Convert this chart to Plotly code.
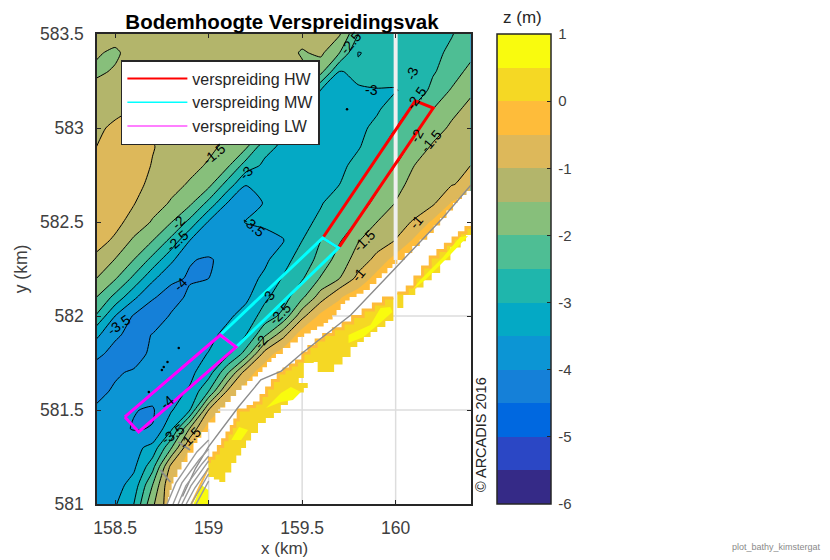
import plotly.graph_objects as go

# grid of the bathymetry (km, m)
grid_x = [158.4, 158.5, 158.6, 158.7, 158.8, 158.9, 159.0, 159.1, 159.2, 159.3, 159.4,
          159.5, 159.6, 159.7, 159.8, 159.9, 160.0, 160.1, 160.2, 160.3, 160.4]
grid_y = [581.0, 581.1, 581.2, 581.3, 581.4, 581.5, 581.6, 581.7, 581.8, 581.9, 582.0, 582.1, 582.2,
          582.3, 582.4, 582.5, 582.6, 582.7, 582.8, 582.9, 583.0, 583.1, 583.2, 583.3, 583.4, 583.5]
z_m = [
 [-3.7,-3.55,-3.0,-1.6,-0.6,-0.2,-0.2,-0.2,-0.2,-0.2,-0.2,-0.2,-0.2,-0.2,-0.2,-0.2,-0.2,-0.2,-0.2,-0.2,-0.2],
 [-3.75,-3.7,-3.3,-2.0,-0.5,-0.2,-0.2,-0.2,-0.2,-0.2,-0.2,-0.2,-0.2,-0.2,-0.2,-0.2,-0.2,-0.2,-0.2,-0.2,-0.2],
 [-3.8,-3.75,-3.6,-2.7,-0.85,-0.2,-0.2,-0.2,-0.2,-0.2,-0.2,-0.2,-0.2,-0.2,-0.2,-0.2,-0.2,-0.2,-0.2,-0.2,-0.2],
 [-3.85,-3.8,-3.65,-3.35,-2.05,-0.5,-0.2,-0.2,-0.2,-0.2,-0.2,-0.2,-0.2,-0.2,-0.2,-0.2,-0.2,-0.2,-0.2,-0.2,-0.2],
 [-3.9,-3.87,-4.03,-3.98,-3.1,-1.45,-0.2,-0.2,-0.2,-0.2,-0.2,-0.2,-0.2,-0.2,-0.2,-0.2,-0.2,-0.2,-0.2,-0.2,-0.2],
 [-3.95,-3.85,-3.98,-4.05,-3.55,-3.0,-1.0,-0.2,-0.2,-0.2,-0.2,-0.2,-0.2,-0.2,-0.2,-0.2,-0.2,-0.2,-0.2,-0.2,-0.2],
 [-4.1,-3.95,-3.85,-3.8,-3.65,-3.45,-2.5,-0.95,-0.3,-0.2,-0.2,-0.2,-0.2,-0.2,-0.2,-0.2,-0.2,-0.2,-0.2,-0.2,-0.2],
 [-4.3,-4.05,-3.95,-3.85,-3.75,-3.6,-3.25,-2.1,-0.75,-0.2,-0.2,-0.2,-0.2,-0.2,-0.2,-0.2,-0.2,-0.2,-0.2,-0.2,-0.2],
 [-3.85,-4.2,-4.2,-3.9,-3.8,-3.7,-3.48,-3.15,-2.3,-0.8,-0.2,-0.2,-0.2,-0.2,-0.2,-0.2,-0.2,-0.2,-0.2,-0.2,-0.2],
 [-3.4,-3.9,-4.2,-3.98,-3.85,-3.75,-3.65,-3.35,-3.0,-2.1,-1.15,-0.2,-0.2,-0.2,-0.2,-0.2,-0.2,-0.2,-0.2,-0.2,-0.2],
 [-2.55,-3.5,-4.05,-4.3,-3.95,-3.85,-3.75,-3.6,-3.3,-2.8,-2.35,-1.15,-0.35,-0.2,-0.2,-0.2,-0.2,-0.2,-0.2,-0.2,-0.2],
 [-2.0,-2.65,-3.4,-3.95,-4.2,-3.9,-3.8,-3.7,-3.6,-3.1,-2.72,-2.1,-1.23,-0.55,-0.2,-0.2,-0.2,-0.2,-0.2,-0.2,-0.2],
 [-1.5,-1.95,-2.62,-3.4,-3.9,-4.05,-4.0,-3.82,-3.7,-3.4,-2.95,-2.55,-1.95,-1.5,-0.85,-0.3,-0.2,-0.2,-0.2,-0.2,-0.2],
 [-1.1,-1.52,-2.0,-2.65,-3.4,-3.97,-4.05,-3.85,-3.75,-3.6,-3.2,-2.75,-2.35,-1.75,-1.3,-0.85,-0.3,-0.2,-0.2,-0.2,-0.2],
 [-0.85,-1.07,-1.6,-2.0,-2.65,-3.52,-3.7,-3.75,-3.72,-3.65,-3.52,-3.0,-2.5,-2.05,-1.52,-1.25,-0.98,-0.4,-0.2,-0.2,-0.2],
 [-0.78,-0.88,-1.15,-1.55,-1.98,-2.65,-3.55,-3.68,-3.48,-3.42,-3.35,-3.2,-2.85,-2.35,-1.95,-1.5,-1.2,-0.95,-0.4,-0.2,-0.2],
 [-0.75,-0.75,-0.98,-1.28,-1.55,-1.9,-2.65,-3.52,-3.65,-3.48,-3.35,-3.25,-3.05,-2.65,-2.25,-1.85,-1.48,-1.25,-1.08,-0.45,-0.2],
 [-0.75,-0.7,-0.85,-1.12,-1.35,-1.55,-1.85,-2.7,-3.49,-3.49,-3.3,-3.3,-3.2,-3.0,-2.5,-2.1,-1.65,-1.35,-1.2,-1.03,-0.85],
 [-0.8,-0.7,-0.75,-1.03,-1.25,-1.37,-1.55,-1.9,-2.75,-3.1,-3.25,-3.3,-3.3,-3.15,-2.8,-2.4,-2.0,-1.5,-1.3,-1.15,-1.0],
 [-1.0,-0.75,-0.75,-0.97,-1.2,-1.3,-1.4,-1.6,-1.92,-2.85,-3.1,-3.25,-3.3,-3.2,-3.05,-2.65,-2.25,-1.85,-1.42,-1.3,-1.15],
 [-1.15,-0.85,-0.85,-1.05,-1.25,-1.3,-1.35,-1.4,-1.55,-1.92,-2.9,-3.1,-3.2,-3.2,-3.1,-2.9,-2.5,-2.1,-1.75,-1.4,-1.25],
 [-1.3,-1.2,-0.98,-1.2,-1.3,-1.3,-1.3,-1.3,-1.35,-1.5,-1.9,-2.95,-3.1,-3.15,-3.15,-3.05,-2.8,-2.4,-2.0,-1.65,-1.35],
 [-1.35,-1.3,-1.25,-1.3,-1.3,-1.3,-1.3,-1.3,-1.3,-1.3,-1.45,-1.88,-3.03,-3.1,-3.03,-3.02,-3.02,-2.85,-2.35,-1.95,-1.6],
 [-1.58,-1.45,-1.3,-1.3,-1.3,-1.3,-1.3,-1.3,-1.3,-1.3,-1.3,-1.4,-1.85,-3.02,-2.93,-2.85,-2.88,-2.9,-2.55,-2.25,-1.85],
 [-1.45,-1.58,-1.3,-1.3,-1.3,-1.3,-1.3,-1.3,-1.3,-1.3,-1.3,-1.55,-1.4,-2.0,-3.02,-2.9,-2.85,-2.75,-2.6,-2.42,-2.15],
 [-1.3,-1.3,-1.3,-1.3,-1.3,-1.3,-1.3,-1.3,-1.3,-1.3,-1.3,-1.3,-1.3,-1.45,-2.5,-2.85,-2.85,-2.8,-2.7,-2.52,-2.3],
]

band_colors = ["#352A87", "#2B47C5", "#0068E0", "#1580D8", "#0C95D4", "#04A9C5", "#1FB6AC",
               "#4EBE94", "#87BF7B", "#B3B56B", "#DDB85A", "#FEBC3A", "#F5D824", "#F9FB0E"]
colorbar_ticks = [-6, -5, -4, -3, -2, -1, 0, 1]

# shore edge of the survey (the white land beyond it)
shore_x = [158.775,158.783,158.791,158.802,158.812,158.833,158.855,158.887,158.919,158.940,158.961,158.998,159.036,
           159.062,159.089,159.118,159.147,159.176,159.206,159.235,159.264,159.288,159.312,159.336,159.360,159.397,
           159.437,159.477,159.511,159.546,159.580,159.615,159.639,159.663,159.684,159.706,159.730,159.754,159.791,
           159.828,159.862,159.897,159.926,159.956,159.983,160.009,160.049,160.089,160.129,160.169,160.204,160.238,
           160.272,160.307,160.331,160.355,160.379,160.410,160.410,158.775]
shore_y = [581.000,581.037,581.074,581.109,581.144,581.184,581.223,581.273,581.324,581.353,581.383,581.433,581.484,
           581.513,581.543,581.575,581.606,581.630,581.654,581.678,581.702,581.728,581.755,581.776,581.798,581.830,
           581.859,581.888,581.907,581.926,581.944,581.963,581.981,582.000,582.032,582.064,582.082,582.101,582.119,
           582.138,582.170,582.202,582.228,582.255,582.277,582.298,582.335,582.372,582.406,582.441,582.481,582.521,
           582.561,582.601,582.622,582.644,582.665,582.686,581.000,581.000]

# gap in the data at x = 160
gap_x = [160.0, 160.0]
gap_y = [582.298, 583.5]

# grid lines visible on the land
land_grid_x = [159.0,159.0,None,159.5,159.5,None,160.0,160.0,None,159.05,160.41,None,159.66,160.41]
land_grid_y = [581.0,581.4,None,581.0,581.89,None,581.0,582.30,None,581.5,581.5,None,582.0,582.0]

# dry beach patches
beach_a_x = [160.009,160.062,160.103,160.144,160.185,160.226,160.266,160.307,160.341,160.376,160.410,
             160.410,160.376,160.348,160.293,160.238,160.193,160.149,160.105,160.052,160.041,160.009,160.009]
beach_a_y = [582.122,582.154,582.207,582.260,582.314,582.348,582.381,582.415,582.443,582.471,582.500,
             582.431,582.397,582.364,582.297,582.229,582.190,582.151,582.112,582.112,582.043,582.032,582.122]
beach_b_x = [159.988,159.935,159.881,159.826,159.770,159.719,159.667,159.615,159.575,159.536,159.504,159.470,159.437,
             159.403,159.372,159.341,159.310,159.280,159.245,159.211,159.158,159.140,159.121,159.098,159.075,159.052,
             159.028,159.004,158.999,
             159.028,159.057,159.089,159.121,159.148,159.174,159.200,159.227,159.264,159.306,159.349,159.386,159.424,
             159.466,159.509,159.530,159.482,159.509,159.562,159.583,159.626,159.671,159.716,159.759,159.795,159.830,
             159.866,159.902,159.945,159.988,159.988]
beach_b_y = [582.096,582.064,582.032,581.998,581.963,581.932,581.902,581.872,581.838,581.803,581.761,581.740,581.718,
             581.697,581.657,581.617,581.577,581.537,581.518,581.500,581.447,581.412,581.378,581.342,581.306,581.271,
             581.244,581.218,581.144,
             581.130,581.117,581.168,581.218,581.258,581.298,581.338,581.378,581.431,581.458,581.484,581.526,581.569,
             581.593,581.617,581.644,581.670,581.750,581.755,581.702,581.702,581.742,581.782,581.835,581.862,581.888,
             581.915,581.941,581.973,582.005,582.096]
core_1_x = [159.972,159.919,159.865,159.812,159.748,159.748,159.828,159.935,159.983,159.972]
core_1_y = [582.048,582.043,581.952,581.926,581.899,581.856,581.888,581.979,582.021,582.048]
core_2_x = [159.440,159.387,159.307,159.387,159.451,159.493,159.440]
core_2_y = [581.622,581.590,581.511,581.543,581.553,581.596,581.622]
core_3_x = [159.163,159.121,159.174,159.211,159.163]
core_3_y = [581.410,581.340,581.340,581.394,581.410]
core_4_x = [160.344,160.254,160.131,160.089,160.158,160.291,160.387,160.344]
core_4_y = [582.420,582.314,582.191,582.138,582.191,582.324,582.426,582.420]
core_5_x = [158.998,158.998,158.919,158.961,158.998]
core_5_y = [581.074,581.000,581.000,581.101,581.074]
dike_x = [158.998, 158.908]
dike_y = [581.191, 581.000]

# grey coast and structure lines
coast_x = [160.403,160.257,159.989,159.760,159.494,159.388,159.279,159.159,158.998,158.93,158.86]
coast_y = [582.697,582.527,582.245,582.005,581.798,581.707,581.660,581.516,581.303,581.19,581.04]
fan_x = [158.778,158.825,158.937,159.0,None,158.81,158.857,158.948,159.0,None,158.837,158.878,158.964,159.0,None,
         158.857,158.905,159.0,None,158.88,158.926,159.0,None,158.906,158.948,159.0,None,158.933,158.97,159.0]
fan_y = [581.0,581.112,581.277,581.34,None,581.0,581.112,581.234,581.293,None,581.0,581.096,581.213,581.255,None,
         581.0,581.096,581.229,None,581.0,581.085,581.191,None,581.0,581.075,581.16,None,581.0,581.069,581.122]
stub_x = [158.742,158.795,None,158.837,158.901]
stub_y = [581.181,581.117,None,581.330,581.287]

# dumping areas
hw_x = [159.610,159.828,160.105,160.201,159.695,159.610]
hw_y = [582.415,582.734,583.144,583.106,582.362,582.415]
mw_x = [159.062,159.610,159.695,159.147,159.062]
mw_y = [581.899,582.415,582.362,581.835,581.899]
lw_x = [158.552,159.062,159.147,158.626,158.552]
lw_y = [581.463,581.899,581.835,581.383,581.463]
legend_names = ["verspreiding HW", "verspreiding MW", "verspreiding LW"]
legend_colors = ["#FF0000", "#00FFFF", "#FF00FF"]

# tiny closed -4 contours
speck_x = [158.75,158.76,158.78,158.84,158.68,159.74]
speck_y = [581.713,581.729,581.755,581.83,581.596,583.10]

# contour labels: x, y, text, angle
label_x = [159.03,158.84,158.83,159.20,159.24,158.85,158.52,159.76,159.87,160.09,160.11,160.11,160.19,159.83,
           160.11,159.80,159.32,159.38,159.28,158.78,158.81,158.90]
label_y = [582.86,582.50,582.40,582.76,582.48,582.17,581.95,583.45,583.20,583.29,583.16,582.96,582.93,582.40,
           582.50,582.22,582.10,582.01,581.86,581.54,581.37,581.35]
label_text = ["-1.5","-2","-2.5","-3","-3.5","-4","-3.5","-2.5","-3","-3","-2.5","-2","-1.5","-1.5",
              "-1","-1","-3","-2.5","-2","-4","-3.5","-1.5"]
label_angle = [-40,-45,-42,-45,40,-45,-35,-50,0,-70,-55,-60,-50,-45,-50,-50,-55,-45,-50,-40,-35,-45]

# ---------------------------------------------------------------------
FONT = "Liberation Sans"
scale = []
for i, c in enumerate(band_colors):
    scale += [[i / len(band_colors), c], [(i + 1) / len(band_colors), c]]

fig = go.Figure()
fig.add_trace(go.Contour(
    x=grid_x, y=grid_y, z=z_m, zmin=-6, zmax=1, colorscale=scale,
    autocontour=False, showlegend=False,
    contours=dict(start=-6, end=1, size=0.5, coloring="fill", showlines=False),
    line=dict(width=0, smoothing=0.6), hoverinfo="skip",
    colorbar=dict(x=(497 - 95) / 376, xanchor="left", xpad=0, ypad=0, y=0.5, yanchor="middle", len=1,
                  thickness=54, thicknessmode="pixels", outlinecolor="#262626", outlinewidth=1.5,
                  tickmode="array", tickvals=colorbar_ticks, ticktext=["\u2009" + str(t) for t in colorbar_ticks],
                  ticks="inside", ticklen=4, tickcolor="#262626",
                  tickfont=dict(family=FONT, size=15, color="#404040")),
))
fig.add_trace(go.Contour(
    x=grid_x, y=grid_y, z=z_m, showscale=False, autocontour=False, showlegend=False,
    contours=dict(start=-4, end=-1, size=0.5, coloring="none", showlines=True),
    line=dict(color="#000000", width=1, smoothing=0.6), hoverinfo="skip",
))


def poly(x, y, color, shape="linear"):
    fig.add_trace(go.Scatter(x=x, y=y, mode="lines", fill="toself", fillcolor=color,
                             line=dict(width=0, color=color, shape=shape), showlegend=False, hoverinfo="skip"))


def line(x, y, color, width, shape="linear"):
    fig.add_trace(go.Scatter(x=x, y=y, mode="lines", line=dict(color=color, width=width, shape=shape),
                             showlegend=False, hoverinfo="skip"))


line(gap_x, gap_y, "#EFEFEF", 4)
poly(shore_x, shore_y, "#FFFFFF", "hv")
line(land_grid_x, land_grid_y, "#DDDDDD", 1.5)
poly(beach_a_x, beach_a_y, "#F5D824", "hv")
poly(beach_b_x, beach_b_y, "#F5D824", "hv")
line(beach_a_x[:11], beach_a_y[:11], "#FEBC3A", 3, "hv")
line(beach_b_x[:28], beach_b_y[:28], "#FEBC3A", 3, "hv")
poly(core_1_x, core_1_y, "#F9FB0E")
poly(core_2_x, core_2_y, "#F9FB0E")
poly(core_3_x, core_3_y, "#F9FB0E")
poly(core_4_x, core_4_y, "#F9FB0E")
poly(core_5_x, core_5_y, "#F9FB0E")
line(dike_x, dike_y, "#FEBC3A", 2)
line(coast_x, coast_y, "#8C8C8C", 1.4)
line(fan_x, fan_y, "#9A9A9A", 1.4)
line(stub_x, stub_y, "#8C8C8C", 1.8)
fig.add_trace(go.Scatter(x=speck_x, y=speck_y, mode="markers", marker=dict(color="#000000", size=2.5),
                         showlegend=False, hoverinfo="skip"))
line(hw_x, hw_y, legend_colors[0], 3)
line(mw_x, mw_y, legend_colors[1], 3)
line(lw_x, lw_y, legend_colors[2], 3)
for name, color, w in zip(legend_names, legend_colors, [2, 1.6, 1.2]):
    fig.add_trace(go.Scatter(x=[None], y=[None], mode="lines", name=name, line=dict(color=color, width=w)))

annotations = [dict(x=xv, y=yv, text=t, textangle=a, showarrow=False, xref="x", yref="y",
                    xanchor="center", yanchor="middle",
                    font=dict(family=FONT, size=14, color="#000000"))
               for xv, yv, t, a in zip(label_x, label_y, label_text, label_angle)]
annotations += [
    dict(x=(523 - 95) / 376, y=(504 - 18) / 470, xref="paper", yref="paper", text="z (m)", showarrow=False,
         xanchor="center", yanchor="middle", font=dict(family=FONT, size=17, color="#262626")),
    dict(x=(481 - 95) / 376, y=(504 - 434) / 470, xref="paper", yref="paper", text="© ARCADIS 2016", textangle=-90,
         xanchor="center", yanchor="middle", showarrow=False, font=dict(family=FONT, size=14.5, color="#262626")),
    dict(x=(778 - 95) / 376, y=(504 - 547) / 470, xref="paper", yref="paper", text="plot_bathy_kimstergat",
         xanchor="center", yanchor="middle", showarrow=False, font=dict(family=FONT, size=9, color="#8A8A8A")),
    dict(x=(283 - 95) / 376, y=(504 - 548) / 470, xref="paper", yref="paper", text="x (km)",
         xanchor="center", yanchor="middle", showarrow=False, font=dict(family=FONT, size=17, color="#404040")),
]

axis = dict(showgrid=False, zeroline=False, showline=True, linecolor="#262626", linewidth=1.5, mirror="ticks",
            ticks="inside", ticklen=4, tickcolor="#262626", tickfont=dict(family=FONT, size=17.5, color="#404040"),
            title_font=dict(family=FONT, size=17.5, color="#404040"))
fig.update_layout(
    width=822, height=552, autosize=False, margin=dict(l=87, r=359, t=26, b=56),
    paper_bgcolor="#FFFFFF", plot_bgcolor="#FFFFFF",
    title=dict(text="<b>Bodemhoogte Verspreidingsvak</b>", x=(282 - 8) / 822, xanchor="center", y=1 - 14 / 552,
               yanchor="middle", font=dict(family=FONT, size=20.5, color="#000000")),
    xaxis=dict(axis, range=[158.403, 160.403], tickvals=[158.5, 159, 159.5, 160], ticklabelstandoff=7,
               ticktext=["158.5", "159", "159.5", "160"]),
    yaxis=dict(axis, range=[581, 583.5], tickvals=[581, 581.5, 582, 582.5, 583, 583.5], ticklabelstandoff=8,
               ticktext=["581", "581.5", "582", "582.5", "583", "583.5"], title=dict(text="y (km)", standoff=8)),
    legend=dict(x=(119 - 95) / 376, y=(504 - 60) / 470, xanchor="left", yanchor="top", bgcolor="#FFFFFF",
                bordercolor="#262626", borderwidth=1.5, font=dict(family=FONT, size=16, color="#262626"),
                itemwidth=60, tracegroupgap=0),
    annotations=annotations,
)
fig.write_html("out.html")
